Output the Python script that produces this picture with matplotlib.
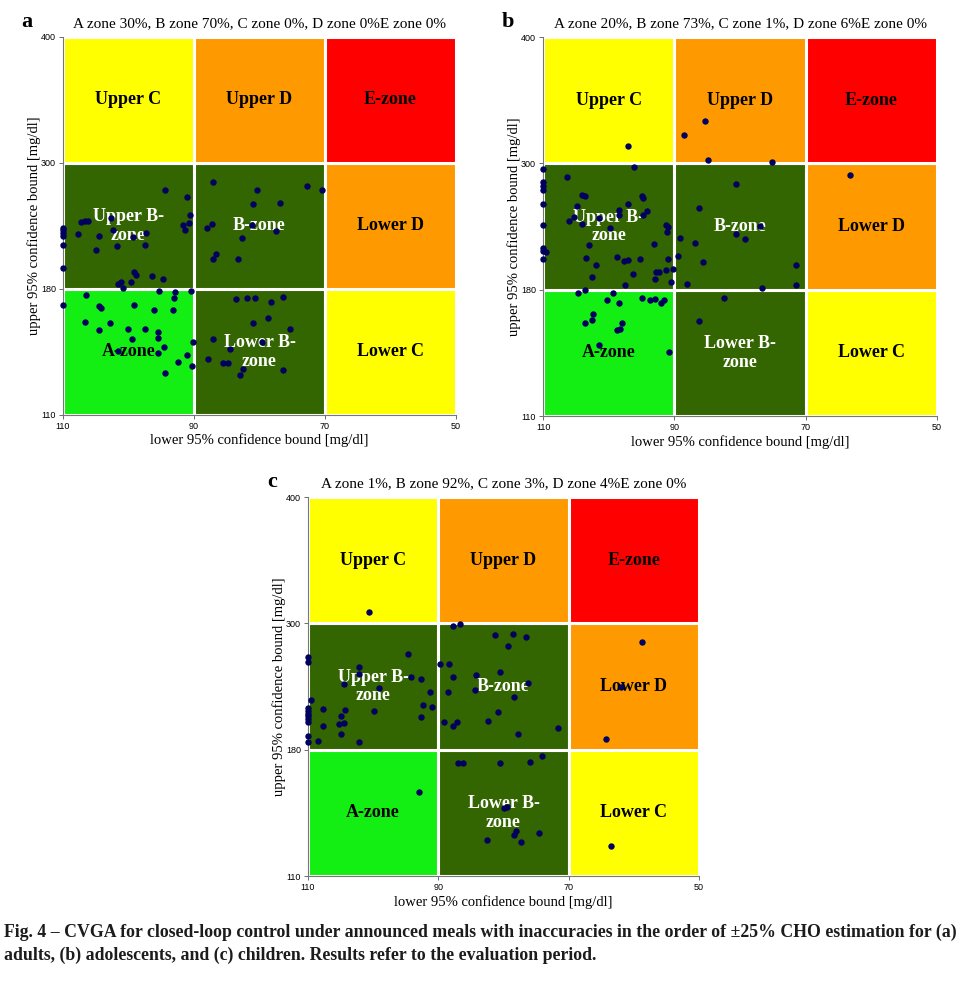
import numpy as np
import matplotlib
matplotlib.use('Agg')
import matplotlib.pyplot as plt
from matplotlib.patches import Rectangle

# zone grid (mg/dl)
x_edges = [110, 90, 70, 50]
y_edges = [110, 180, 300, 400]

zone_names = [['A-zone', 'Lower B-\nzone', 'Lower C'],
              ['Upper B-\nzone', 'B-zone', 'Lower D'],
              ['Upper C', 'Upper D', 'E-zone']]
zone_colors = [['#13ee13', '#336600', '#ffff00'],
               ['#336600', '#336600', '#ff9900'],
               ['#ffff00', '#ff9900', '#ff0000']]

titles = ['A zone 30%, B zone 70%, C zone 0%, D zone 0%E zone 0%',
          'A zone 20%, B zone 73%, C zone 1%, D zone 6%E zone 0%',
          'A zone 1%, B zone 92%, C zone 3%, D zone 4%E zone 0%']
letters = ['a', 'b', 'c']

# (a) adults
a_lower = [94.5, 91.1, 90.6, 90.8, 91.7, 91.3, 102.7, 107.3, 106.7, 106.2,
           110, 110, 110, 110, 107.7, 104.5, 102.3, 99.3, 97.3, 97.5,
           101.8, 104.9, 110, 110, 99.2, 98.9, 96.4, 94.7, 101.6, 101.1,
           100.9, 99.6,
           87.1, 80.4, 72.8, 70.4, 81.0, 76.9, 87.3, 88.0, 81.2, 77.5, 82.7, 86.6, 87.1, 83.3,
           95.3, 92.9, 90.5, 93.1, 106.5, 110, 104.5, 104.2, 99.2, 96.1, 93.2, 106.6, 102.8,
           104.5, 100.1, 97.5, 95.5, 95.5, 99.4, 90.1, 94.6, 101.6, 95.5, 91.1, 92.4, 90.3, 94.4,
           83.6, 81.9, 80.7, 78.3, 76.4, 81.0, 78.7, 75.3, 87.1, 79.6, 84.5, 87.9, 85.6, 84.8,
           82.5, 83.0, 76.4]
a_upper = [274.3, 267.6, 250.5, 243.1, 241.0, 236.5, 247.3, 243.8, 245.0, 245.0,
           238.4, 235.9, 233.0, 230.5, 232.7, 230.2, 235.9, 229.5, 233.3, 221.6,
           221.0, 217.4, 222.2, 200.3, 196.5, 193.0, 192.7, 189.2, 184.8, 186.4,
           181.2, 186.4,
           281.9, 274.6, 278.1, 274.6, 261.2, 261.9, 241.9, 238.4, 241.0, 235.2, 228.6, 213.0, 208.6, 208.3,
           179.1, 178.2, 178.7, 175.2, 176.7, 171.1, 170.7, 169.4, 171.1, 168.5, 168.2, 161.7, 161.3,
           157.2, 157.9, 157.9, 155.9, 152.9, 152.1, 150.6, 147.6, 145.6, 144.3, 143.5, 139.6, 137.4, 133.5,
           174.6, 174.8, 175.0, 172.6, 175.7, 161.3, 163.7, 157.9, 152.1, 150.7, 146.7, 141.1, 139.1,
           139.1, 135.4, 132.2, 135.0]

# (b) adolescents
b_lower = [97.0, 88.5, 85.3, 84.9, 75.1, 63.2,
           80.6, 86.2, 77.0, 80.6, 79.2, 89.1, 86.9, 89.4, 85.6, 71.4, 71.4, 88.1, 76.6,
           96.2, 110, 106.3, 110, 110, 110, 104.0, 103.6, 95.0, 94.7, 97.1, 104.8, 110, 98.4,
           98.5, 94.1, 94.7, 105.3, 101.5, 106.1, 104.0, 110, 99.8, 91.3, 91.0, 91.1, 93.1,
           103.0, 110, 110, 109.5, 110, 103.5, 98.7, 97.7, 97.0, 95.3, 90.9, 101.9, 91.2, 90.2,
           96.3, 92.8, 92.4, 102.5, 93.0, 90.5, 97.5,
           104.6, 103.6, 99.4, 100.3, 98.5, 95.0, 93.7, 92.9, 92.1, 91.6, 102.4, 102.6, 103.6,
           97.9, 98.3, 98.8, 101.5, 90.8,
           82.4, 86.2]
b_upper = [313.4, 322.3, 333.3, 302.9, 300.8, 288.6,
           280.7, 257.8, 240.3, 232.7, 228.6, 229.2, 224.1, 212.1, 206.0, 203.1, 184.5, 185.0, 181.6,
           296.9, 294.6, 286.7, 282.3, 278.4, 275.2, 269.8, 268.9, 268.9, 266.7, 261.9, 260.0, 261.0, 255.5,
           251.2, 254.6, 251.2, 249.5, 247.9, 245.7, 242.6, 241.2, 239.0, 241.2, 240.0, 234.6, 223.8,
           222.2, 220.0, 217.1, 215.9, 209.2, 209.8, 210.9, 207.0, 207.9, 209.5, 209.5, 203.8, 199.0, 199.7,
           195.2, 196.9, 197.1, 192.4, 190.5, 187.3, 184.2,
           178.3, 179.6, 178.3, 174.4, 172.4, 175.2, 174.1, 174.6, 172.4, 174.4, 166.7, 163.2, 161.5,
           161.5, 158.5, 157.8, 149.4, 145.6,
           175.2, 162.4]

# (c) children
c_lower = [100.7, 58.8, 62.0, 64.3, 63.5, 92.9,
           87.8, 86.6, 81.3, 78.6, 76.6, 79.3, 89.7, 88.4, 87.7, 84.2, 80.6, 76.2, 88.5, 84.4,
           78.4, 80.9, 89.1, 87.1, 87.8, 82.4, 77.8, 71.6,
           94.6, 110, 110, 102.1, 102.1, 94.2, 92.6, 104.4, 99.1, 91.3, 109.5, 92.3, 90.9,
           110, 110, 110, 110, 110, 110, 107.7, 104.3, 99.9, 104.9, 92.7, 105.2, 104.4, 107.7,
           104.9, 110, 110, 108.5, 102.1,
           87.0, 86.2, 80.5, 76.0, 74.1, 79.9, 79.5, 78.0, 78.4, 74.6, 82.6, 77.3]
c_upper = [308.7, 282.6, 239.4, 190.1, 126.8, 156.3,
           297.2, 299.1, 288.9, 289.8, 287.0, 278.5, 261.7, 261.7, 249.1, 250.7, 253.9, 243.2, 235.2, 236.5,
           230.2, 216.0, 206.5, 205.9, 202.1, 207.5, 194.5, 200.2,
           271.2, 267.8, 263.3, 258.6, 252.0, 248.8, 247.2, 242.8, 239.0, 234.6, 227.1, 222.6, 220.7,
           220.1, 216.9, 214.1, 211.6, 209.2, 206.8, 218.5, 217.9, 217.2, 211.9, 211.3, 204.9, 205.3, 202.1,
           194.5, 192.6, 186.9, 188.5, 187.3,
           172.6, 172.6, 172.9, 173.3, 176.5, 147.6, 148.5, 135.2, 132.9, 133.9, 130.0, 128.9]

lowers = [a_lower, b_lower, c_lower]
uppers = [a_upper, b_upper, c_upper]

serif = 'Liberation Serif'
sans = 'Liberation Sans'


def y_fwd(v):
    return np.interp(v, y_edges, [0, 1, 2, 3])


def y_inv(u):
    return np.interp(u, [0, 1, 2, 3], y_edges)


fig = plt.figure(figsize=(9.63, 9.81), dpi=100)
positions = [[0.0654, 0.577, 0.4081, 0.3853],
             [0.5639, 0.5759, 0.4091, 0.3863],
             [0.3198, 0.1070, 0.4060, 0.3863]]

for k in range(3):
    ax = fig.add_axes(positions[k])
    ax.set_yscale('function', functions=(y_fwd, y_inv))
    ax.set_xlim(110, 50)
    ax.set_ylim(110, 400)
    for r in range(3):
        for c in range(3):
            x0 = x_edges[c]
            x1 = x_edges[c + 1]
            y0 = y_edges[r]
            y1 = y_edges[r + 1]
            ax.add_patch(Rectangle((x1, y0), x0 - x1, y1 - y0,
                                   facecolor=zone_colors[r][c], edgecolor='white',
                                   linewidth=2.2, zorder=1))
            tcol = 'white' if zone_colors[r][c] == '#336600' else 'black'
            ym = y_inv(r + 0.5)
            ax.text((x0 + x1) / 2, ym, zone_names[r][c], ha='center', va='center',
                    fontsize=13, fontweight='bold', family=serif, color=tcol,
                    linespacing=1.1, zorder=2)
    ax.plot(lowers[k], uppers[k], 'o', color='#00005e', markersize=4.6,
            markeredgewidth=0, zorder=3, clip_on=False)
    ax.set_xticks(x_edges)
    ax.set_yticks(y_edges)
    ax.tick_params(labelsize=6.5, length=3, width=0.6, pad=2, color='#555555')
    for lab in ax.get_xticklabels() + ax.get_yticklabels():
        lab.set_family(sans)
    for s in ['top', 'right']:
        ax.spines[s].set_visible(False)
    for s in ['left', 'bottom']:
        ax.spines[s].set_color('#777777')
        ax.spines[s].set_linewidth(0.8)
    ax.set_xlabel('lower 95% confidence bound [mg/dl]', fontsize=10.5, family=serif, labelpad=2)
    ax.set_ylabel('upper 95% confidence bound [mg/dl]', fontsize=10.5, family=serif, labelpad=0)
    ax.set_title(titles[k], fontsize=11, family=serif, pad=7)
    ax.text(-0.105, 1.04, letters[k], transform=ax.transAxes, fontsize=16,
            fontweight='bold', family=serif, va='center', ha='left')

cap1 = ('Fig. 4 \u2013 CVGA for closed-loop control under announced meals with inaccuracies '
        'in the order of \u00b125% CHO estimation for (a)')
cap2 = 'adults, (b) adolescents, and (c) children. Results refer to the evaluation period.'
fig.text(0.004, 1 - 932 / 981, cap1, fontsize=12.8, fontweight='bold', family=serif,
         color='#1c1c1c', va='center', ha='left')
fig.text(0.004, 1 - 955 / 981, cap2, fontsize=12.8, fontweight='bold', family=serif,
         color='#1c1c1c', va='center', ha='left')

fig.savefig('out.png', dpi=100)
